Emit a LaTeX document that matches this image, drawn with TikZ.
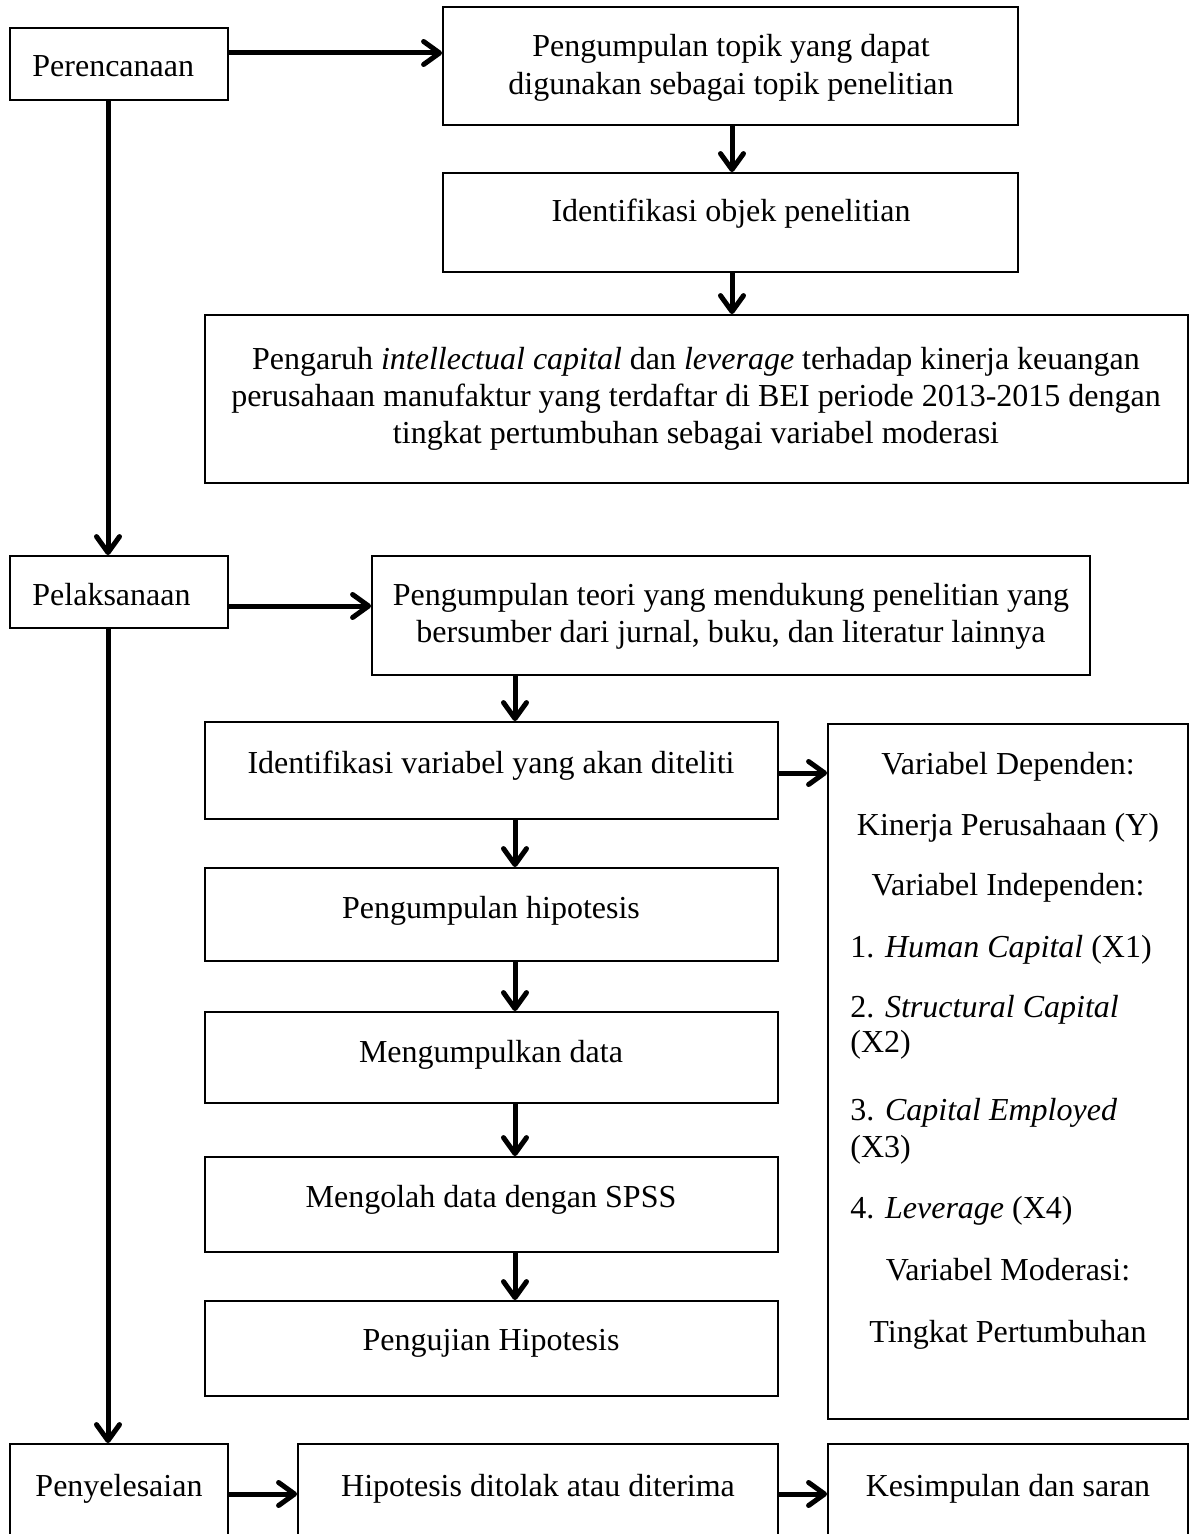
\documentclass[tikz,border=0pt]{standalone}
\usepackage{fontspec}
\setmainfont{Liberation Serif}
\usetikzlibrary{arrows.meta,fit}
\begin{document}
\begin{tikzpicture}[x=0.5pt,y=-0.5pt,
  box/.style={draw, line width=0.9pt, inner sep=0pt},
  txt/.style={inner sep=0pt, anchor=base, font=\fontsize{16}{19}\selectfont},
  txtl/.style={txt, anchor=base west},
  arr/.style={line width=2.5pt, -{Straight Barb[length=8pt,width=11.5pt,line cap=round,line join=round]}}]
\useasboundingbox (0,0) rectangle (1195,1534);
\clip (0,0) rectangle (1195,1534);
% boxes
\node[box, fit={(10,28)(228,100)}] (per) {};
\node[box, fit={(443,7)(1018,125)}] (topik) {};
\node[box, fit={(443,173)(1018,272)}] (objek) {};
\node[box, fit={(205,315)(1188,483)}] (pengaruh) {};
\node[box, fit={(10,556)(228,628)}] (pel) {};
\node[box, fit={(372,556)(1090,675)}] (teori) {};
\node[box, fit={(205,722)(778,819)}] (ident) {};
\node[box, fit={(828,724)(1188,1419)}] (var) {};
\node[box, fit={(205,868)(778,961)}] (hip) {};
\node[box, fit={(205,1012)(778,1103)}] (kumpul) {};
\node[box, fit={(205,1157)(778,1252)}] (olah) {};
\node[box, fit={(205,1301)(778,1396)}] (uji) {};
\node[box, fit={(10,1444)(228,1560)}] (sel) {};
\node[box, fit={(298,1444)(778,1560)}] (hdt) {};
\node[box, fit={(828,1444)(1188,1560)}] (kes) {};
% texts
\node[txtl] (tper) at (32,77) {Perencanaan};
\node[txt] (ttop1) at (731,57) {Pengumpulan topik yang dapat};
\node[txt] (ttop2) at (731,95) {digunakan sebagai topik penelitian};
\node[txt] (tobj) at (731,222) {Identifikasi objek penelitian};
\node[txt] (tpg1) at (696,370) {Pengaruh \textit{intellectual capital} dan \textit{leverage} terhadap kinerja keuangan};
\node[txt] (tpg2) at (696,407) {perusahaan manufaktur yang terdaftar di BEI periode 2013-2015 dengan};
\node[txt] (tpg3) at (696,444) {tingkat pertumbuhan sebagai variabel moderasi};
\node[txtl] (tpel) at (32,605) {Pelaksanaan};
\node[txt] (tteo1) at (731,605) {Pengumpulan teori yang mendukung penelitian yang};
\node[txt] (tteo2) at (731,642) {bersumber dari jurnal, buku, dan literatur lainnya};
\node[txt] (tidn) at (491,773) {Identifikasi variabel yang akan diteliti};
\node[txt] (tv1) at (1008,774) {Variabel Dependen:};
\node[txt] (tv2) at (1008,835) {Kinerja Perusahaan (Y)};
\node[txt] (tv3) at (1008,895) {Variabel Independen:};
\node[txtl] (tv4) at (850,957) {1. \textit{Human Capital} (X1)};
\node[txtl] (tv5) at (850,1017) {2. \textit{Structural Capital}};
\node[txtl] (tv6) at (850,1052) {(X2)};
\node[txtl] (tv7) at (850,1120) {3. \textit{Capital Employed}};
\node[txtl] (tv8) at (850,1157) {(X3)};
\node[txtl] (tv9) at (850,1218) {4. \textit{Leverage} (X4)};
\node[txt] (tv10) at (1008,1280) {Variabel Moderasi:};
\node[txt] (tv11) at (1008,1342) {Tingkat Pertumbuhan};
\node[txt] (thip) at (491,918) {Pengumpulan hipotesis};
\node[txt] (tkum) at (491,1062) {Mengumpulkan data};
\node[txt] (tola) at (491,1207) {Mengolah data dengan SPSS};
\node[txt] (tuji) at (491,1350) {Pengujian Hipotesis};
\node[txt] (tsel) at (119,1496) {Penyelesaian};
\node[txt] (thdt) at (538,1496) {Hipotesis ditolak atau diterima};
\node[txt] (tkes) at (1008,1496) {Kesimpulan dan saran};
% connector guides
\coordinate (ya) at (0,53);
\coordinate (yb) at (0,606);
\coordinate (yc) at (0,773);
\coordinate (yd) at (0,1494);
\coordinate (xl) at (108,0);
\coordinate (xm) at (515,0);
\coordinate (xt) at (732,0);
% connectors
\draw[arr] (per.east |- ya) -- (topik.west |- ya);
\draw[arr] (topik.south -| xt) -- (objek.north -| xt);
\draw[arr] (objek.south -| xt) -- (pengaruh.north -| xt);
\draw[arr] (per.south -| xl) -- (pel.north -| xl);
\draw[arr] (pel.east |- yb) -- (teori.west |- yb);
\draw[arr] (teori.south -| xm) -- (ident.north -| xm);
\draw[arr] (ident.east |- yc) -- (var.west |- yc);
\draw[arr] (ident.south -| xm) -- (hip.north -| xm);
\draw[arr] (hip.south -| xm) -- (kumpul.north -| xm);
\draw[arr] (kumpul.south -| xm) -- (olah.north -| xm);
\draw[arr] (olah.south -| xm) -- (uji.north -| xm);
\draw[arr] (pel.south -| xl) -- (sel.north -| xl);
\draw[arr] (sel.east |- yd) -- (hdt.west |- yd);
\draw[arr] (hdt.east |- yd) -- (kes.west |- yd);
\end{tikzpicture}
\end{document}
